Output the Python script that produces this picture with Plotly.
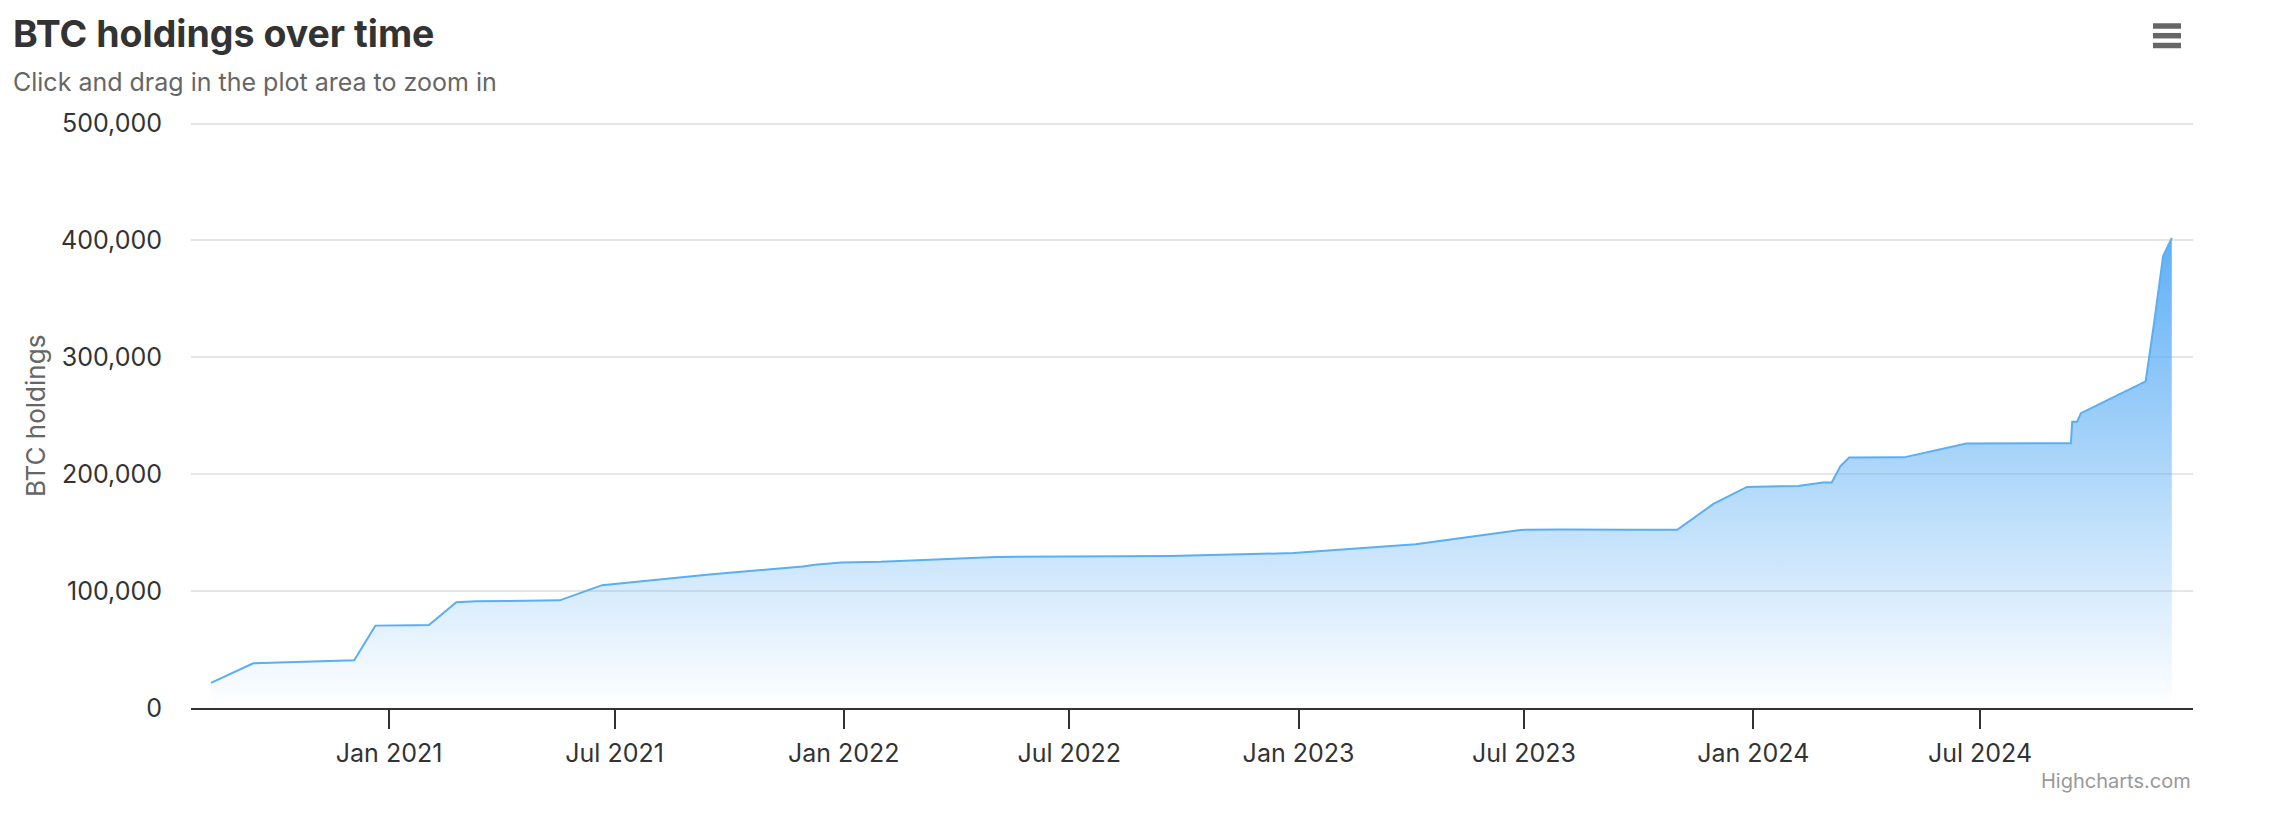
import plotly.graph_objects as go

# ---- data ----
dates = [
    "2020-08-11", "2020-09-14", "2020-12-04", "2020-12-21", "2021-01-22", "2021-02-02",
    "2021-02-24", "2021-03-01", "2021-03-05", "2021-03-12", "2021-04-05", "2021-05-13",
    "2021-05-18", "2021-06-21", "2021-09-13", "2021-11-29", "2021-12-09",
    "2021-12-30", "2022-01-31", "2022-05-03", "2022-06-29", "2022-09-20", "2022-12-28",
    "2023-03-27", "2023-04-05", "2023-06-28", "2023-07-31", "2023-09-25", "2023-11-01",
    "2023-11-30", "2023-12-27", "2024-02-06", "2024-02-26", "2024-03-04", "2024-03-10",
    "2024-03-11", "2024-03-18", "2024-05-01", "2024-06-20", "2024-08-01", "2024-09-12",
    "2024-09-13", "2024-09-17", "2024-09-20", "2024-11-11", "2024-11-18", "2024-11-25",
    "2024-12-02",
]
btc_holdings = [
    21454, 38250, 40824, 70470, 70784, 71079,
    90531, 90859, 91064, 91326, 91579, 91850,
    92079, 105085, 114042, 121044, 122478,
    124391, 125051, 129218, 129699, 130000, 132500,
    138955, 140000, 152333, 152800, 152400, 152400,
    174530, 189150, 190000, 193000, 193000, 205000,
    207000, 214246, 214400, 226331, 226500, 226500,
    244800, 244800, 252220, 279420, 331200, 386700,
    402100,
]
x_range = ["2020-07-26", "2024-12-19"]
y_max = 503000
y_ticks = [0, 100000, 200000, 300000, 400000, 500000]

TITLE = "BTC holdings over time"
SUBTITLE = "Click and drag in the plot area to zoom in"
Y_TITLE = "BTC holdings"
CREDIT = "Highcharts.com"

# ---- geometry ----
W, H = 2282, 826
L, R, T, B = 191, 89, 120, 118
PW, PH = W - L - R, H - T - B


def px_x(px):
    return (px - L) / PW


def px_y(py):
    return (H - B - py) / PH


FONT = "Inter, Roboto, 'Liberation Sans', sans-serif"
base = "rgba(95,176,245,"

fig = go.Figure()
fig.add_trace(go.Scatter(
    x=dates, y=btc_holdings, mode="lines",
    line=dict(color="#5aaef4", width=2),
    fill="tozeroy",
    fillgradient=dict(
        type="vertical",
        colorscale=[[0, base + "0)"], [1, base + "1)"]],
        start=0, stop=max(btc_holdings),
    ),
    hovertemplate="%{x|%b %d, %Y}<br>BTC holdings: %{y:,}<extra></extra>",
))

fig.update_layout(
    width=W, height=H,
    margin=dict(l=L, r=R, t=T, b=B, pad=0),
    paper_bgcolor="white", plot_bgcolor="white",
    showlegend=False,
    font=dict(family=FONT, color="#333333", size=25),
    xaxis=dict(
        type="date", range=x_range,
        tick0="2021-01-01", dtick="M6", tickformat="%b %Y",
        ticks="outside", ticklen=19, tickwidth=2, tickcolor="#333333",
        showline=True, linecolor="#333333", linewidth=2,
        showgrid=False, zeroline=False,
        tickfont=dict(size=25, color="#333333"),
        ticklabelstandoff=3,
    ),
    yaxis=dict(
        range=[0, y_max], tickvals=y_ticks, tickformat=",d",
        showgrid=True, gridcolor="#e6e6e6", gridwidth=2,
        zeroline=False, showline=False, ticks="",
        tickfont=dict(size=25, color="#333333"),
        ticklabelstandoff=28,
    ),
    annotations=[
        dict(text=f"<b>{TITLE}</b>", xref="paper", yref="paper",
             x=px_x(11), y=px_y(34), xanchor="left", yanchor="middle",
             showarrow=False, font=dict(size=37.5, color="#333333", family=FONT)),
        dict(text=SUBTITLE, xref="paper", yref="paper",
             x=px_x(11), y=px_y(82), xanchor="left", yanchor="middle",
             showarrow=False, font=dict(size=25, color="#666666", family=FONT)),
        dict(text=Y_TITLE, xref="paper", yref="paper",
             x=px_x(35), y=px_y(416), xanchor="center", yanchor="middle", textangle=-90,
             showarrow=False, font=dict(size=26, color="#666666", family=FONT)),
        dict(text=CREDIT, xref="paper", yref="paper",
             x=px_x(2193), y=px_y(781), xanchor="right", yanchor="middle",
             showarrow=False, font=dict(size=20, color="#999999", family=FONT)),
    ],
    shapes=[
        dict(type="line", xref="paper", yref="paper", xsizemode="pixel", ysizemode="pixel",
             xanchor=px_x(2150), yanchor=px_y(yy),
             x0=3, x1=31, y0=0, y1=0, line=dict(color="#666666", width=5.5))
        for yy in (26, 35.7, 45.5)
    ],
)

fig.write_html("out.html", config={"displayModeBar": False},
               post_script="document.body.style.margin='0';")
